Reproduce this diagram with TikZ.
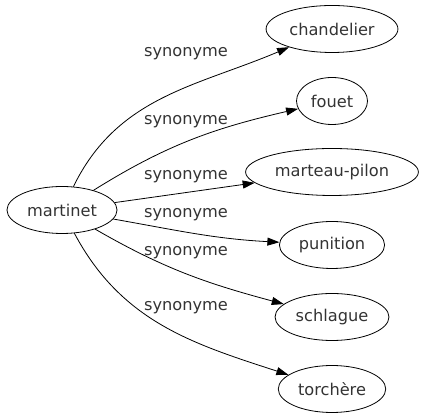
\documentclass[tikz,border=0pt]{standalone}
\usepackage{fontspec}
\setmainfont{DejaVu Sans}
\usetikzlibrary{arrows.meta,shapes.geometric}

\begin{document}
\begin{tikzpicture}[x=1pt, y=1pt, >={Triangle[length=12pt,width=8pt]},
  font=\fontsize{16.2}{19}\selectfont, line width=0.8pt,
  ent/.style={draw, ellipse, inner xsep=4pt, minimum height=47pt, text=black!80},
  lbl/.style={text=black!80, inner sep=1pt}]
\useasboundingbox (0,0) rectangle (425,419);
\node[ent] (mart)  at (62,209)  {martinet};
\node[ent] (chand) at (332,390) {chandelier};
\node[ent] (fouet) at (332,318) {fouet};
\node[ent] (mpil)  at (332,247) {marteau-pilon};
\node[ent] (puni)  at (332,174) {punition};
\node[ent] (schl)  at (332,102) {schlague};
\node[ent] (torch) at (332,30)  {torchère};
% labels
\node[lbl] (l1) at (186,365) {synonyme};
\node[lbl] (l2) at (186,297) {synonyme};
\node[lbl] (l3) at (186,242) {synonyme};
\node[lbl] (l4) at (186,204) {synonyme};
\node[lbl] (l5) at (186,166) {synonyme};
\node[lbl] (l6) at (186,111) {synonyme};
\draw[->] (mart) to[out=64, in=203] (chand);
\draw[->] (mart) to[out=32, in=193] (fouet);
\draw[->] (mart) to[out=8, in=188] (mpil);
\draw[->] (mart) to[out=-10, in=177] (puni);
\draw[->] (mart) to[out=-30, in=165] (schl);
\draw[->] (mart) to[out=-62, in=162] (torch);
\end{tikzpicture}
\end{document}
